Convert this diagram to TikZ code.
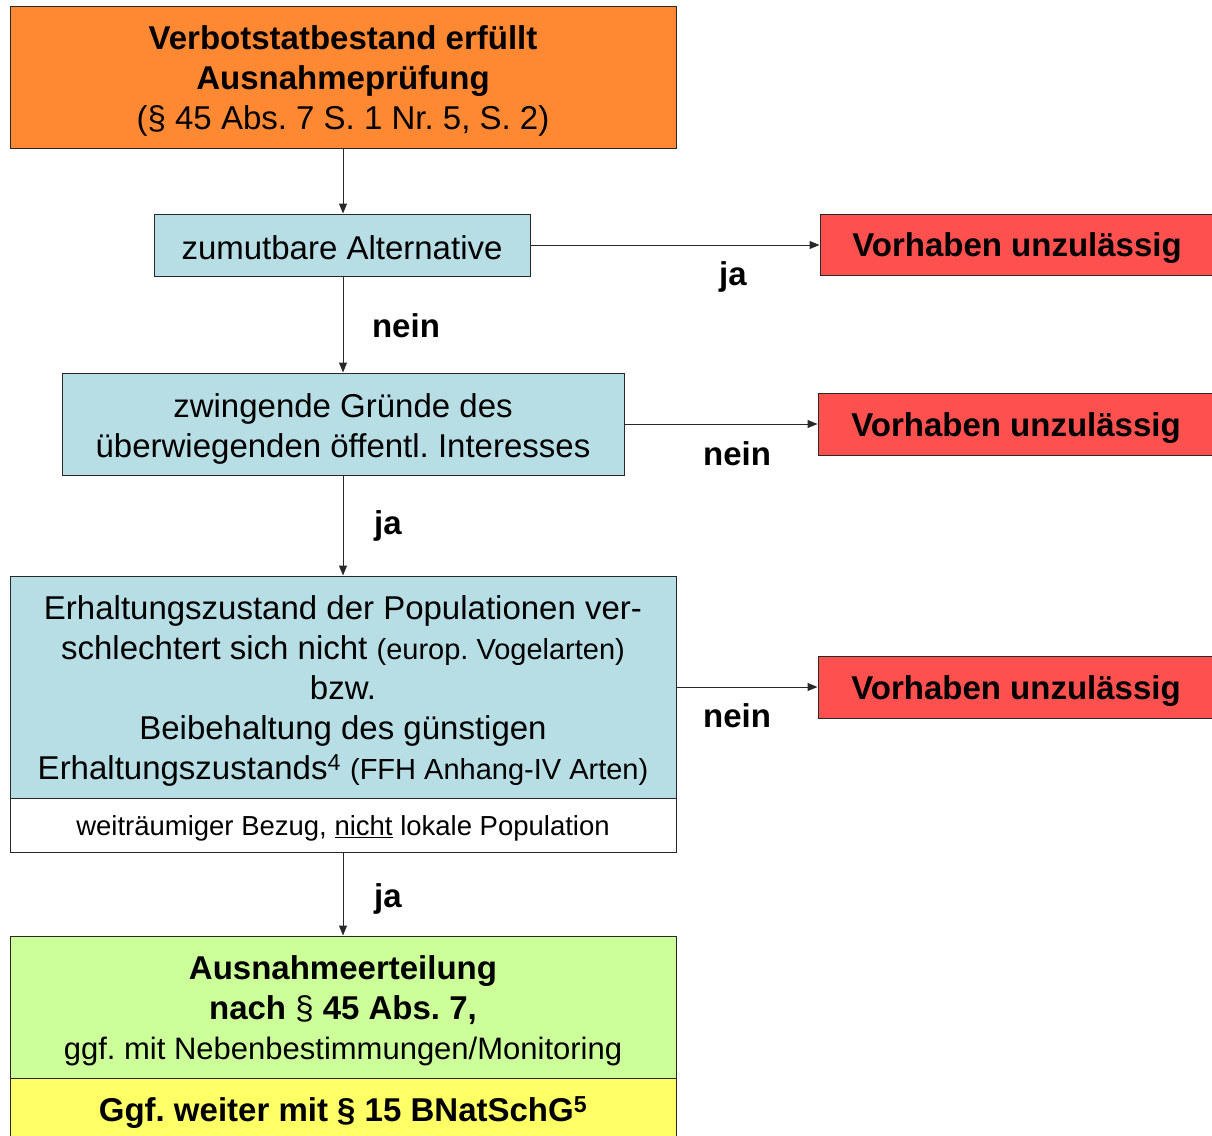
\documentclass[tikz,border=0pt]{standalone}
\usepackage{fontspec}
\setmainfont{Liberation Sans}
\frenchspacing
\usetikzlibrary{arrows.meta}
\definecolor{orangebox}{RGB}{255,136,51}
\definecolor{bluebox}{RGB}{183,222,228}
\definecolor{redbox}{RGB}{255,80,80}
\definecolor{greenbox}{RGB}{204,255,153}
\definecolor{yellowbox}{RGB}{255,255,102}
\definecolor{edge}{RGB}{40,40,40}
\begin{document}
\begin{tikzpicture}[x=1pt,y=-1pt,
  box/.style={draw=edge, line width=1pt, inner sep=0pt},
  txt/.style={align=center, inner sep=0pt, yshift=-4pt, font=\fontsize{33}{40}\selectfont},
  redtxt/.style={txt, font=\bfseries\fontsize{33}{40}\selectfont},
  conn/.style={draw=edge, line width=1pt, -{Triangle[length=10pt,width=8pt]}},
  lbl/.style={font=\bfseries\fontsize{33}{40}\selectfont, anchor=base, inner sep=0pt}]
\useasboundingbox (0,0) rectangle (1212,1135);

% boxes
\node[box, fill=orangebox, minimum width=666, minimum height=142] (top) at (343,77) {};
\node[box, fill=bluebox, minimum width=376, minimum height=62] (alt) at (342,245) {};
\node[box, fill=bluebox, minimum width=562, minimum height=102] (zw) at (343,424) {};
\node[box, fill=bluebox, minimum width=666, minimum height=222] (erh) at (343,687) {};
\node[box, fill=white, minimum width=666, minimum height=54] (wei) at (343,825) {};
\node[box, fill=greenbox, minimum width=666, minimum height=142] (aus) at (343,1007) {};
\node[box, fill=yellowbox, minimum width=666, minimum height=64] (ggf) at (343,1110) {};
\node[box, fill=redbox, minimum width=394, minimum height=61] (r1) at (1017,244.5) {};
\node[box, fill=redbox, minimum width=396, minimum height=62] (r2) at (1016,424) {};
\node[box, fill=redbox, minimum width=396, minimum height=62] (r3) at (1016,687) {};

% texts
\node[txt] (top-t) at (top.center)
  {\textbf{Verbotstatbestand erfüllt}\\ \textbf{Ausnahmeprüfung}\\ (§ 45 Abs. 7 S. 1 Nr. 5, S. 2)};
\node[txt, yshift=1.5pt] (alt-t) at (alt.center) {zumutbare Alternative};
\node[txt, yshift=-1pt] (zw-t) at (zw.center) {zwingende Gründe des\\ überwiegenden öffentl. Interesses};
\node[txt] (erh-t) at (erh.center)
  {Erhaltungszustand der Populationen ver-\\
   schlechtert sich nicht {\fontsize{29}{40}\selectfont (europ. Vogelarten)}\\
   bzw.\\
   Beibehaltung des günstigen\\
   Erhaltungszustands\textsuperscript{4} {\fontsize{29}{40}\selectfont (FFH Anhang-IV Arten)}};
\node[txt, yshift=1pt, font=\fontsize{27.5}{33}\selectfont] (wei-t) at (wei.center)
  {weiträumiger Bezug, \underline{nicht} lokale Population};
\node[txt] (aus-t) at (aus.center)
  {\textbf{Ausnahmeerteilung}\\ \textbf{nach} § \textbf{45 Abs. 7,}\\ {\fontsize{31}{40}\selectfont ggf. mit Nebenbestimmungen/Monitoring}};
\node[txt, yshift=1pt] (ggf-t) at (ggf.center) {\textbf{Ggf. weiter mit § 15 BNatSchG\textsuperscript{5}}};
\node[redtxt] (r1-t) at (r1.center) {Vorhaben unzulässig};
\node[redtxt] (r2-t) at (r2.center) {Vorhaben unzulässig};
\node[redtxt] (r3-t) at (r3.center) {Vorhaben unzulässig};

% connectors
\draw[conn] (top.south) -- (top.south |- alt.north);
\draw[conn] (top.south |- alt.south) -- (top.south |- zw.north);
\draw[conn] (zw.south) -- (erh.north);
\draw[conn] (wei.south) -- (aus.north);
\draw[conn] (alt.east) -- (alt.east -| r1.west);
\draw[conn] (zw.east) -- (zw.east -| r2.west);
\draw[conn] (erh.east) -- (erh.east -| r3.west);

\node[lbl] (l1) at (733,285) {ja};
\node[lbl] (l2) at (406,337) {nein};
\node[lbl] (l3) at (737,465) {nein};
\node[lbl] (l4) at (388,534) {ja};
\node[lbl] (l5) at (737,727) {nein};
\node[lbl] (l6) at (388,907) {ja};
\end{tikzpicture}
\end{document}
